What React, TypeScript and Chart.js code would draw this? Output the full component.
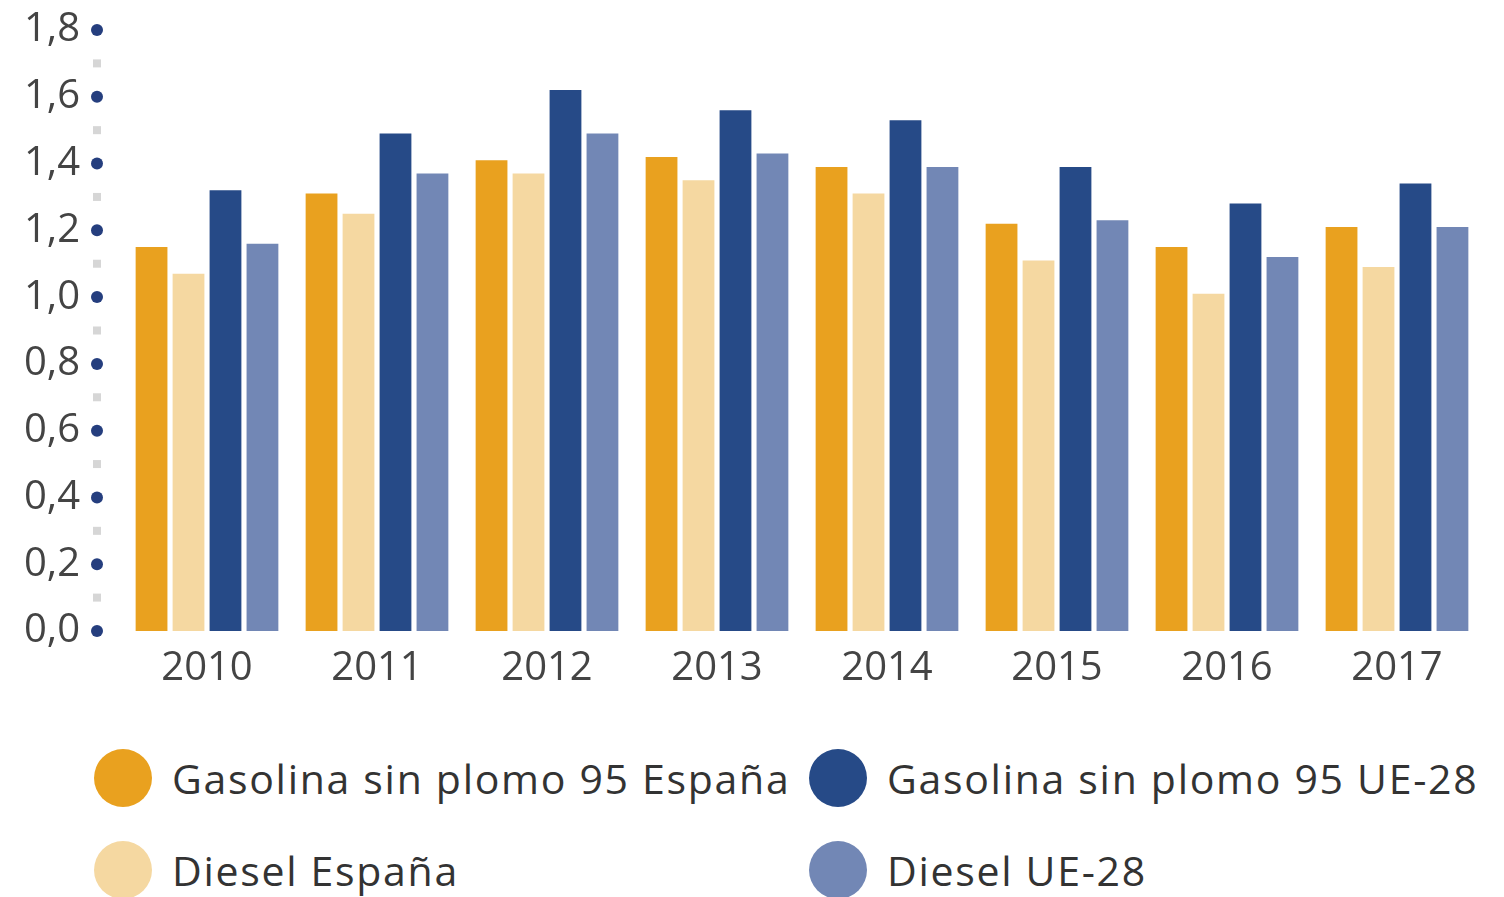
import React, { useEffect, useRef } from "react";
import { Chart, registerables } from "chart.js";

Chart.register(...registerables);

const years = ["2010", "2011", "2012", "2013", "2014", "2015", "2016", "2017"];
const gasolinaEspana = [1.15, 1.31, 1.41, 1.42, 1.39, 1.22, 1.15, 1.21];
const dieselEspana = [1.07, 1.25, 1.37, 1.35, 1.31, 1.11, 1.01, 1.09];
const gasolinaUE = [1.32, 1.49, 1.62, 1.56, 1.53, 1.39, 1.28, 1.34];
const dieselUE = [1.16, 1.37, 1.49, 1.43, 1.39, 1.23, 1.12, 1.21];
const yTicks = [0, 0.2, 0.4, 0.6, 0.8, 1.0, 1.2, 1.4, 1.6, 1.8];

const C_ORANGE = "#E9A11F";
const C_LIGHT = "#F5D8A1";
const C_BLUE = "#264A87";
const C_BLUEL = "#7287B5";
const FONT = "'Open Sans'";

const legendItems = [
  { label: "Gasolina sin plomo 95 España", color: C_ORANGE },
  { label: "Gasolina sin plomo 95 UE-28", color: C_BLUE },
  { label: "Diesel España", color: C_LIGHT },
  { label: "Diesel UE-28", color: C_BLUEL },
];

const axisDots = {
  id: "axisDots",
  afterDraw(chart: any) {
    const y = chart.scales.y;
    const ctx = chart.ctx;
    const x = chart.chartArea.left - 25;
    ctx.save();
    for (let i = 0; i < yTicks.length; i++) {
      const py = y.getPixelForValue(yTicks[i]);
      if (i < yTicks.length - 1) {
        const pm = y.getPixelForValue((yTicks[i] + yTicks[i + 1]) / 2);
        ctx.fillStyle = "#d6d6d6";
        ctx.fillRect(x - 4, pm - 4, 8, 8);
      }
      ctx.fillStyle = "#253E7E";
      ctx.beginPath();
      ctx.arc(x, py, 6, 0, Math.PI * 2);
      ctx.fill();
    }
    ctx.restore();
  },
};

export default function App() {
  const ref = useRef<HTMLCanvasElement>(null);
  useEffect(() => {
    if (!ref.current) return;
    const chart = new Chart(ref.current, {
      type: "bar",
      data: {
        labels: years,
        datasets: [
          { label: "Gasolina sin plomo 95 España", data: gasolinaEspana, backgroundColor: C_ORANGE },
          { label: "Diesel España", data: dieselEspana, backgroundColor: C_LIGHT },
          { label: "Gasolina sin plomo 95 UE-28", data: gasolinaUE, backgroundColor: C_BLUE },
          { label: "Diesel UE-28", data: dieselUE, backgroundColor: C_BLUEL },
        ],
      },
      options: {
        animation: false,
        responsive: false,
        maintainAspectRatio: false,
        layout: { padding: { top: 12, right: 22, bottom: 8, left: 0 } },
        plugins: { legend: { display: false }, tooltip: { enabled: false } },
        datasets: { bar: { categoryPercentage: 0.87, barPercentage: 0.86 } },
        scales: {
          x: {
            grid: { display: false, drawTicks: false },
            border: { display: false },
            ticks: { color: "#444", font: { family: FONT, size: 40 }, padding: 14 },
          },
          y: {
            min: 0,
            max: 1.8,
            afterFit(scale: any) {
              scale.width = 122;
            },
            afterBuildTicks(scale: any) {
              scale.ticks = yTicks.map((v) => ({ value: v }));
            },
            grid: { display: false, drawTicks: false },
            border: { display: false },
            ticks: {
              color: "#444",
              font: { family: FONT, size: 40 },
              padding: 42,
              callback: (v: any) => Number(v).toFixed(1).replace(".", ","),
            },
          },
        },
      },
      plugins: [axisDots],
    });
    return () => chart.destroy();
  }, []);

  return (
    <div style={{ position: "absolute", left: 0, top: 0, width: 1504, height: 897, background: "#fff", overflow: "hidden" }}>
      <canvas ref={ref} width={1504} height={751} style={{ position: "absolute", left: 0, top: -36 }} />
      {legendItems.map((it, i) => {
        const col = i % 2;
        const row = Math.floor(i / 2);
        const left = col === 0 ? 94 : 809;
        const cy = row === 0 ? 778 : 870;
        return (
          <div key={it.label} style={{ position: "absolute", left, top: cy - 29, height: 58, display: "flex", alignItems: "center" }}>
            <div style={{ width: 58, height: 58, borderRadius: "50%", background: it.color }} />
            <span style={{ marginLeft: 20, fontFamily: FONT, fontSize: 41, letterSpacing: "1.7px", color: "#333", whiteSpace: "nowrap" }}>{it.label}</span>
          </div>
        );
      })}
    </div>
  );
}
